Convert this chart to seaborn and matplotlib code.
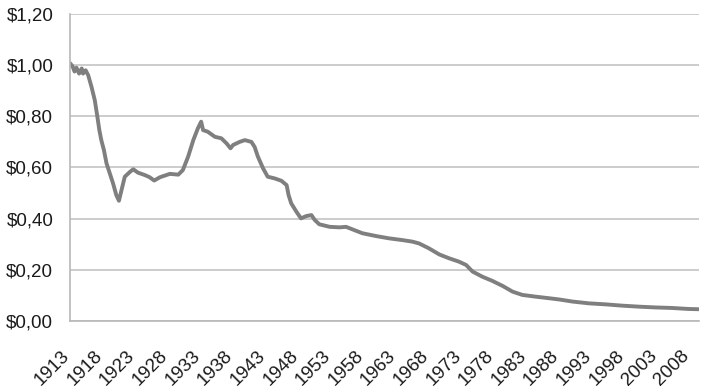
import matplotlib
matplotlib.use("Agg")
import matplotlib.pyplot as plt
import matplotlib.transforms as mtransforms
import seaborn as sns
import pandas as pd

# значення (рік, купівельна спроможність долара)
years = [1913.0, 1913.4, 1913.7, 1914.0, 1914.4, 1914.8, 1915.0, 1915.4, 1915.8, 1916.3,
         1916.8, 1917.2, 1917.5, 1917.8, 1918.2, 1918.6, 1919.1, 1919.6, 1920.1, 1920.5,
         1920.9, 1921.4, 1922.2, 1922.7, 1923.4, 1924.5, 1925.2, 1925.9, 1926.8, 1928.3,
         1929.6, 1930.3, 1931.1, 1931.9, 1932.6, 1933.1, 1933.4, 1934.1, 1935.2, 1936.2,
         1937.0, 1937.6, 1938.0, 1939.0, 1939.8, 1940.8, 1941.3, 1941.8, 1942.6, 1943.3,
         1944.4, 1945.4, 1946.2, 1946.5, 1946.9, 1947.7, 1948.4, 1949.2, 1950.0, 1950.5,
         1951.2, 1952.8, 1954.3, 1955.3, 1956.3, 1957.8, 1959.9, 1961.9, 1964.0, 1965.5,
         1966.5, 1968.0, 1969.6, 1971.1, 1972.6, 1973.7, 1974.7, 1976.2, 1977.7, 1979.3,
         1980.8, 1982.3, 1984.4, 1986.4, 1988.0, 1990.0, 1992.5, 1995.1, 1997.6, 2000.2,
         2002.7, 2005.2, 2007.8, 2009.3]
values = [1.008, 0.995, 0.975, 0.99, 0.967, 0.987, 0.967, 0.98, 0.96, 0.915,
          0.863, 0.798, 0.746, 0.707, 0.668, 0.616, 0.577, 0.538, 0.492, 0.47,
          0.512, 0.564, 0.583, 0.593, 0.58, 0.57, 0.562, 0.549, 0.562, 0.575,
          0.572, 0.59, 0.642, 0.707, 0.753, 0.779, 0.746, 0.74, 0.72, 0.714,
          0.694, 0.675, 0.688, 0.70, 0.707, 0.70, 0.68, 0.642, 0.596, 0.564,
          0.557, 0.548, 0.531, 0.492, 0.46, 0.427, 0.401, 0.41, 0.414, 0.395,
          0.378, 0.368, 0.366, 0.368, 0.358, 0.343, 0.332, 0.323, 0.316, 0.31,
          0.303, 0.284, 0.26, 0.245, 0.232, 0.219, 0.193, 0.173, 0.157, 0.137,
          0.115, 0.102, 0.095, 0.089, 0.084, 0.076, 0.069, 0.065, 0.06, 0.056,
          0.053, 0.051, 0.047, 0.046]

x_ticks = list(range(1913, 2009, 5))
y_ticks = [0.0, 0.2, 0.4, 0.6, 0.8, 1.0, 1.2]
y_labels = ["$0,00", "$0,20", "$0,40", "$0,60", "$0,80", "$1,00", "$1,20"]

df = pd.DataFrame({"year": years, "value": values})

sns.set_style("white")
plt.rcParams["font.family"] = ["Liberation Sans", "DejaVu Sans"]

fig = plt.figure(figsize=(7.09, 3.88), dpi=100)
ax = fig.add_axes([0.0987, 0.1727, 0.8873, 0.7913])

sns.lineplot(data=df, x="year", y="value", color="#7f7f7f", linewidth=2.8, ax=ax)

ax.set_xlim(1913, 2009.4)
ax.set_ylim(0, 1.2)
ax.set_yticks(y_ticks)
ax.set_yticklabels(y_labels)
ax.set_xticks(x_ticks)
ax.set_xticklabels([str(t) for t in x_ticks], rotation=45, ha="right",
                   rotation_mode="anchor")
ax.set_xlabel("")
ax.set_ylabel("")

ax.grid(axis="y", color="#c4c4c4", linewidth=1.2)
ax.set_axisbelow(True)
for side in ["top", "right"]:
    ax.spines[side].set_visible(False)
for side in ["left", "bottom"]:
    ax.spines[side].set_color("#b8b8b8")
    ax.spines[side].set_linewidth(1.2)

ax.tick_params(axis="both", which="major", length=5, width=1.2, color="#b8b8b8",
               labelsize=13.5, labelcolor="#1a1a1a", direction="out")
ax.tick_params(axis="y", pad=7)
ax.tick_params(axis="x", pad=14)

# зсунути підписи років трохи вліво, як в оригіналі
shift = mtransforms.ScaledTranslation(-0.09, 0, fig.dpi_scale_trans)
for lbl in ax.get_xticklabels():
    lbl.set_transform(lbl.get_transform() + shift)

fig.savefig("out.png", dpi=100)
